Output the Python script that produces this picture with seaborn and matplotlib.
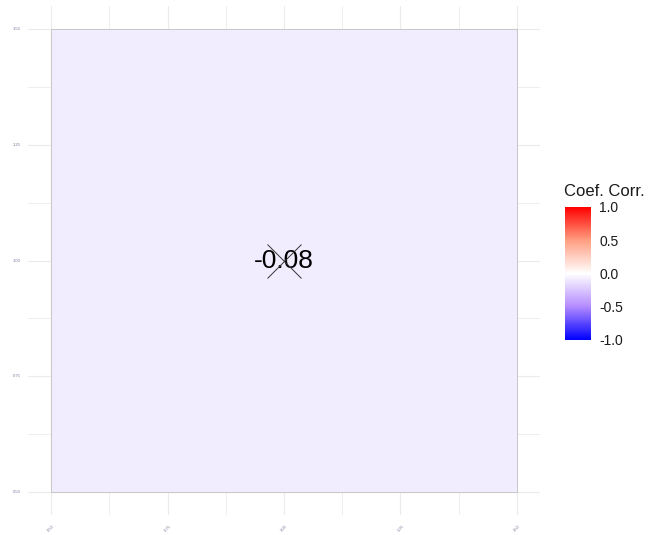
import numpy as np
import pandas as pd
import seaborn as sns
import matplotlib.pyplot as plt
from matplotlib.colors import LinearSegmentedColormap
from matplotlib.ticker import MultipleLocator

# Dados: uma única correlação (não significativa)
variaveis = ["var"]
correlacao = [[-0.08]]
significativo = [[False]]
tick_pos = [0.0, 0.25, 0.5, 0.75, 1.0]
tick_labels = ["0.50", "0.75", "1.00", "1.25", "1.50"]
cbar_ticks = [-1.0, -0.5, 0.0, 0.5, 1.0]
cbar_labels = ["-1.0", "-0.5", "0.0", "0.5", "1.0"]

df = pd.DataFrame(correlacao, index=variaveis, columns=variaveis)

sns.set_style("white")
plt.rcParams['font.family'] = ['Liberation Sans', 'DejaVu Sans']

# Escala azul-branco-vermelho (aproximação da interpolação em Lab do ggplot)
cmap = LinearSegmentedColormap.from_list(
    "corr", [(0.0, "#0000FF"), (0.25, "#B38BFF"), (0.5, "#FFFFFF"),
             (0.75, "#FF9E81"), (1.0, "#FF0000")])

fig = plt.figure(figsize=(6.49, 5.35), dpi=100)
ax = fig.add_axes([0.043, 0.0374, 0.789, 0.951])
cax = fig.add_axes([0.8706, 0.3645, 0.040, 0.2486])

sns.heatmap(df, ax=ax, cmap=cmap, vmin=-1, vmax=1, center=0,
            annot=True, fmt=".2f", annot_kws={"size": 19, "color": "black"},
            linewidths=0.7, linecolor="#C8C8C8", cbar_ax=cax)

# Marca de não significância (X)
for i in range(len(variaveis)):
    for j in range(len(variaveis)):
        if not significativo[i][j]:
            ax.plot(j + 0.5, i + 0.5, marker="x", markersize=25,
                    markeredgewidth=0.7, color="#333333", zorder=5)

# Eixo contínuo com expansão de 5%
ax.set_xlim(-0.05, 1.05)
ax.set_ylim(-0.05, 1.05)
ax.set_xticks(tick_pos)
ax.set_yticks(tick_pos)
ax.set_xticklabels(tick_labels, rotation=45, fontsize=3, color="#7A7A9A")
ax.set_yticklabels(tick_labels, rotation=0, fontsize=3, color="#7A7A9A")
ax.xaxis.set_minor_locator(MultipleLocator(0.125))
ax.yaxis.set_minor_locator(MultipleLocator(0.125))
ax.tick_params(which="both", length=0)
ax.tick_params(axis="x", pad=7)
ax.tick_params(axis="y", pad=5)
ax.set_axisbelow(True)
ax.grid(True, which="major", color="#EBEBEB", linewidth=0.8)
ax.grid(True, which="minor", color="#EBEBEB", linewidth=0.6)
for s in ax.spines.values():
    s.set_visible(False)
ax.set_xlabel("")
ax.set_ylabel("")

# Barra de cores
cbar = ax.collections[0].colorbar
cbar.outline.set_visible(False)
cbar.set_ticks(cbar_ticks)
cbar.set_ticklabels(cbar_labels)
cax.tick_params(left=True, right=True, direction="in", color="white",
                length=5, width=0.8, labelsize=10, labelcolor="#1A1A1A", pad=6)
fig.text(564 / 649, 1 - 192 / 535, "Coef. Corr.", fontsize=12,
         color="#1A1A1A", ha="left", va="center")

fig.savefig("out.png", dpi=100)
